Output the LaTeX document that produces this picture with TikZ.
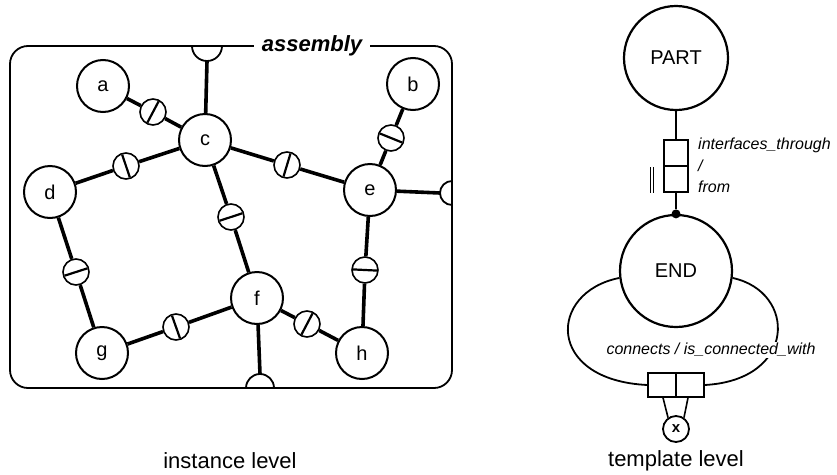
\documentclass[tikz,border=0pt]{standalone}
\usepackage{fontspec}
\setmainfont{Liberation Sans}
\usetikzlibrary{calc}

% a socket on the link between two parts: link line plus a slash across the socket
\newcommand\plug[3]{%
  \draw[conn] (#2) -- (#1) -- (#3);
  \draw[slashln] let \p1=($(#3)-(#2)$), \n1={atan2(\y1,\x1)+90} in
    ($(#1.center)+(\n1:12pt)$) -- ($(#1.center)+(\n1+180:12pt)$);
}

\begin{document}
\begin{tikzpicture}[x=1pt,y=-1pt,
  inst/.style={circle, draw, line width=2pt, minimum size=52pt, inner sep=0pt,
    font=\fontsize{20}{24}\selectfont},
  sock/.style={circle, draw, fill=white, line width=1.6pt, minimum size=26pt, inner sep=0pt},
  conn/.style={line width=3.6pt},
  slashln/.style={line width=2.2pt},
  boxln/.style={line width=1.8pt},
  cls/.style={circle, draw, line width=2.2pt, inner sep=0pt, minimum size=#1,
    font=\fontsize{20}{24}\selectfont},
  rel/.style={rectangle, draw, line width=1.5pt, inner sep=0pt},
  thinln/.style={line width=1.6pt},
  loopln/.style={line width=1.8pt},
  lbl/.style={font=\fontsize{16}{19}\selectfont\itshape, inner sep=1pt},
  caption/.style={font=\fontsize{22}{26}\selectfont, inner sep=0pt}
]
\useasboundingbox[fill=white] (0,0) rectangle (837,474);

% ---------- instance level ----------
\draw[boxln, rounded corners=18pt] (10,46) rectangle (452,388);
\node[fill=white, inner xsep=8pt, inner ysep=2pt,
  font=\fontsize{22}{26}\selectfont\bfseries\itshape] (asm) at (312,46) {assembly};

% interface ports on the assembly border
\draw[boxln] (192,46) arc[start angle=180, end angle=0, radius=15];
\draw[boxln] (452,181) arc[start angle=270, end angle=90, radius=12];
\draw[boxln] (246,388) arc[start angle=180, end angle=360, radius=14];
\coordinate (ptop) at (207,61);
\coordinate (pright) at (440,193);
\coordinate (pbot) at (260,374);

% parts
\node[inst] (a) at (103,86) {a};
\node[inst] (b) at (413,84) {b};
\node[inst] (c) at (205,140) {c};
\node[inst] (d) at (50,192) {d};
\node[inst] (e) at (370,190) {e};
\node[inst] (f) at (257,298) {f};
\node[inst] (g) at (102,353) {g};
\node[inst] (h) at (362,353) {h};

% sockets between parts
\node[sock] (sac) at (153,112) {};
\node[sock] (scd) at (126,166) {};
\node[sock] (sce) at (287,165) {};
\node[sock] (scf) at (231,217) {};
\node[sock] (sbe) at (391,138) {};
\node[sock] (sdg) at (76,272) {};
\node[sock] (seh) at (365,270) {};
\node[sock] (sgf) at (176,327) {};
\node[sock] (sfh) at (307,324) {};

\plug{sac}{a}{c}
\plug{scd}{c}{d}
\plug{sce}{c}{e}
\plug{scf}{c}{f}
\plug{sbe}{b}{e}
\plug{sdg}{d}{g}
\plug{seh}{e}{h}
\plug{sgf}{g}{f}
\plug{sfh}{f}{h}

\draw[conn] (c) -- (ptop);
\draw[conn] (e) -- (pright);
\draw[conn] (f) -- (pbot);

\node[caption] (il) at (230,461) {instance level};

% ---------- template level ----------
\node[cls=104pt] (part) at (676,58) {PART};
\node[cls=112pt] (end) at (676,271) {END};

\node[rel, minimum width=24pt, minimum height=26pt] (rt) at (676,153) {};
\node[rel, minimum width=24pt, minimum height=26pt] (rb) at (676,179) {};
\draw[thinln] (part) -- (rt);
\node[circle, fill, inner sep=0pt, minimum size=9pt] (jn) at (end.north) {};
\draw[thinln] (rb) -- (jn);
\draw[line width=1.2pt] ($(rb.south west)+(-13,0)$) -- ++(0,-26);
\draw[line width=1.2pt] ($(rb.south west)+(-10,0)$) -- ++(0,-26);

\node[lbl, anchor=west] (it) at (697,145) {interfaces\_through};
\node[lbl, anchor=west] (sl) at (697,166) {/};
\node[lbl, anchor=west] (fr) at (697,187) {from};

\node[rel, minimum width=28pt, minimum height=24pt] (rl) at (662,385) {};
\node[rel, minimum width=28pt, minimum height=24pt] (rr) at (690,385) {};
\draw[loopln] (end.187) .. controls (548,292) and (545,380) .. (rl.west);
\draw[loopln] (end.-7) .. controls (797,292) and (797,380) .. (rr.east);
\node[lbl, fill=white, inner sep=1.5pt] (cw) at (711,350) {connects / is\_connected\_with};

\node[circle, draw, line width=1.8pt, minimum size=26pt, inner sep=0pt,
  font=\fontsize{15}{17}\selectfont\bfseries] (xn) at (676,429) {x};
\draw[thinln] ($(rl.south)+(1,0)$) -- (xn.125);
\draw[thinln] ($(rr.south)+(-2,0)$) -- (xn.55);

\node[caption] (tl) at (676,461) {template level};
\end{tikzpicture}
\end{document}
